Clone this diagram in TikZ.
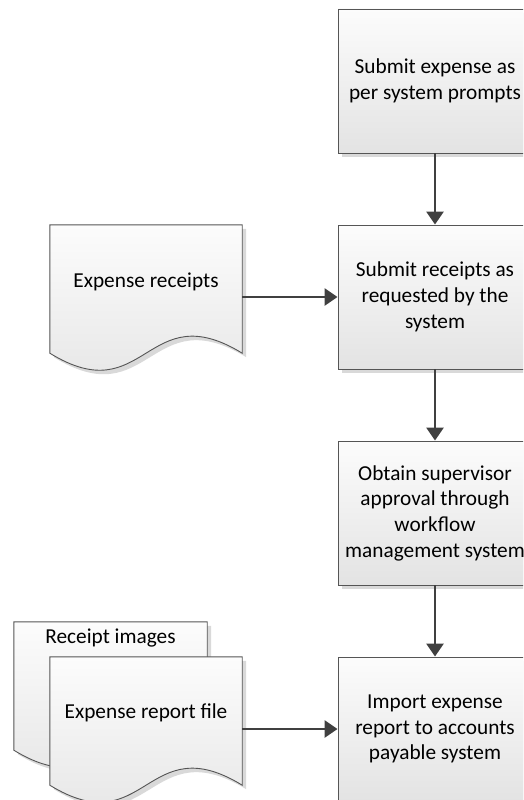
\documentclass[tikz,border=0pt]{standalone}
\usepackage{fontspec}
\setmainfont{Carlito}
\usetikzlibrary{arrows.meta,shadows}
\definecolor{edge}{HTML}{555555}
\definecolor{arrowc}{HTML}{404040}
\definecolor{shadowc}{HTML}{D9D9D9}
\definecolor{filltop}{HTML}{FCFCFC}
\definecolor{fillbot}{HTML}{E3E3E3}

% Outline of a document shape built on a (plain) rectangle node,
% shifted by (#2,#3); the bottom edge is a single wave.
\newcommand\docoutline[3]{%
  ([shift={(#2,#3)}]#1.north west) -- ([shift={(#2,#3)}]#1.north east)
  -- ([shift={(#2,#3)}]#1.south east)
  .. controls ([shift={(#2,#3-59)}]#1.south) and ([shift={(#2,#3+59)}]#1.south)
  .. ([shift={(#2,#3)}]#1.south west) -- cycle}

\begin{document}
\begin{tikzpicture}[x=1pt,y=-1pt,
  font=\fontsize{21.3}{25.7}\selectfont,
  proc/.style={rectangle, draw=edge, line width=0.9pt,
    top color=filltop, bottom color=fillbot,
    drop shadow={shadow xshift=4pt, shadow yshift=-4pt, fill=shadowc, opacity=1},
    minimum width=194pt, minimum height=144pt, align=center, inner sep=0pt},
  docbox/.style={rectangle, minimum width=#1, minimum height=128pt,
    align=center, inner sep=0pt},
  docbox/.default=192pt,
  docfill/.style={draw=edge, line width=0.9pt, top color=filltop, bottom color=fillbot},
  docshadow/.style={fill=shadowc},
  flow/.style={draw=arrowc, line width=2.8pt, -{Triangle[length=13pt,width=17pt]}},
]
\useasboundingbox (0,0) rectangle (523,800);
\clip (0,0) rectangle (523,800);

% process steps
\node[proc] (b1) at (435,81)  {Submit expense as\\per system prompts};
\node[proc] (b2) at (435,297) {Submit receipts as\\requested by the\\system};
\node[proc] (b3) at (435,513) {Obtain supervisor\\approval through\\workflow\\management system};
\node[proc] (b4) at (435,729) {Import expense\\report to accounts\\payable system};

% documents
\node[docbox] (d1) at (146,289) {};
\path[docshadow] \docoutline{d1}{4}{4};
\path[docfill] \docoutline{d1}{0}{0};
\node at (146,282) {Expense receipts};

\node[docbox=193pt] (d2) at (110.5,686) {};
\path[docshadow] \docoutline{d2}{4}{4};
\path[docfill] \docoutline{d2}{0}{0};
\node at (110.5,638) {Receipt images};

\node[docbox] (d3) at (146,721) {};
\path[docshadow] \docoutline{d3}{4}{4};
\path[docfill] \docoutline{d3}{0}{0};
\node at (146,713) {Expense report file};

% connectors
\draw[flow] (b1.south) -- (b2.north);
\draw[flow] (b2.south) -- (b3.north);
\draw[flow] (b3.south) -- (b4.north);
\draw[flow] (d1.east |- b2.west) -- (b2.west);
\draw[flow] (d3.east |- b4.west) -- (b4.west);
\end{tikzpicture}
\end{document}
